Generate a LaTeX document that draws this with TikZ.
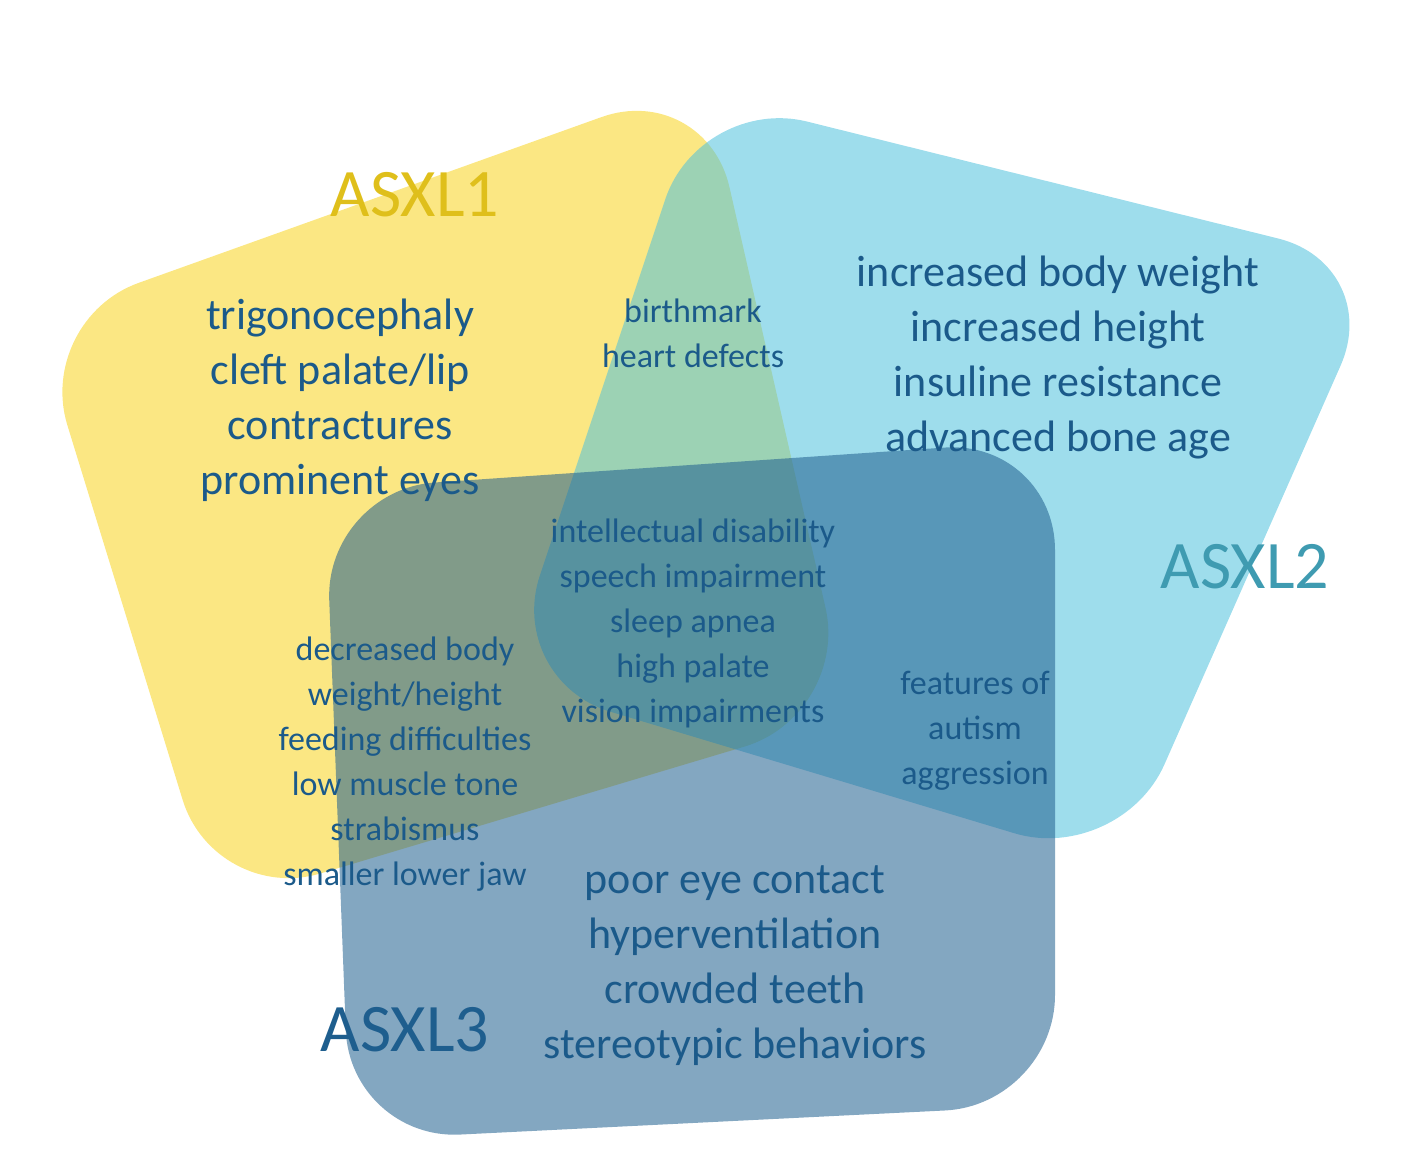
\documentclass[tikz,border=0pt]{standalone}
\usepackage{fontspec}
\setmainfont{Carlito}
\definecolor{txtblue}{HTML}{1B5A8A}
\definecolor{setyellow}{HTML}{F8D41E}
\definecolor{setcyan}{HTML}{4FC1DD}
\definecolor{setnavy}{HTML}{1E5E8E}
\begin{document}
\begin{tikzpicture}[x=0.5pt,y=-0.5pt,
    set shape/.style={rounded corners=55pt,fill opacity=0.55},
    big text/.style={align=center,text=txtblue,font=\fontsize{22}{27.5}\selectfont},
    small text/.style={align=center,text=txtblue,font=\fontsize{17}{22.5}\selectfont},
    set label/.style={font=\fontsize{34}{40}\selectfont}]
  \useasboundingbox (0,0) rectangle (1413,1164);
  % the three sets
  \fill[set shape,setyellow] (705,80) -- (35,320) -- (215,905) -- (850,715) -- cycle;
  \fill[set shape,setcyan] (700,95) -- (1385,265) -- (1120,865) -- (505,680) -- cycle;
  \fill[set shape,setnavy] (325,490) -- (1055,440) -- (1055,1105) -- (350,1140) -- cycle;

  \node[set label,text=setyellow!90!black] (asxlone) at (415,195) {ASXL1};
  \node[set label,text=setcyan!80!black] (asxltwo) at (1245,567) {ASXL2};
  \node[set label,text=setnavy] (asxlthree) at (405,1030) {ASXL3};

  \node[big text] (onlyone) at (340,400) {trigonocephaly\\cleft palate/lip\\contractures\\prominent eyes};
  \node[big text] (onlytwo) at (1058,357) {increased body weight\\increased height\\insuline resistance\\advanced bone age};
  \node[big text] (onlythree) at (735,966) {poor eye contact\\hyperventilation\\crowded teeth\\stereotypic behaviors};
  \node[small text] (onetwo) at (693,333) {birthmark\\heart defects};
  \node[small text] (all) at (693,623) {intellectual disability\\speech impairment\\sleep apnea\\high palate\\vision impairments};
  \node[small text] (onethree) at (405,764) {decreased body\\weight/height\\feeding difficulties\\low muscle tone\\strabismus\\smaller lower jaw};
  \node[small text] (twothree) at (975,731) {features of\\autism\\aggression};
\end{tikzpicture}
\end{document}
